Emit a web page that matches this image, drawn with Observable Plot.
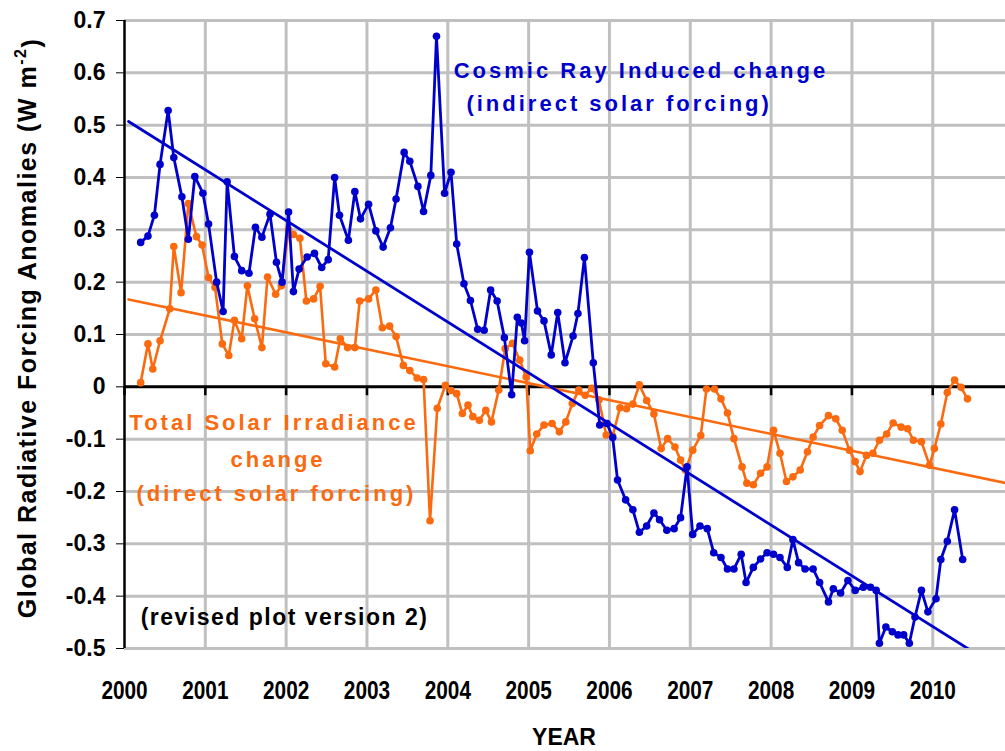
<!DOCTYPE html>
<html>
<head>
<meta charset="utf-8">
<script src="https://cdn.jsdelivr.net/npm/d3@7"></script>
<script src="https://cdn.jsdelivr.net/npm/@observablehq/plot@0.6"></script>
<style>
  html, body { margin: 0; padding: 0; background: #fff; overflow: hidden; }
  #chart { width: 1005px; height: 751px; }
</style>
</head>
<body>
<div id="chart"></div>
<script>
// ---- Data ----
const years = [2000, 2001, 2002, 2003, 2004, 2005, 2006, 2007, 2008, 2009, 2010];
const yTicks = [-0.5, -0.4, -0.3, -0.2, -0.1, 0, 0.1, 0.2, 0.3, 0.4, 0.5, 0.6, 0.7];
const yTickLabels = ["-0.5", "-0.4", "-0.3", "-0.2", "-0.1", "0", "0.1", "0.2", "0.3", "0.4", "0.5", "0.6", "0.7"];

// Cosmic Ray Induced change (indirect solar forcing)
const cosmicYear = [
  2000.20, 2000.29, 2000.37, 2000.44, 2000.54, 2000.61, 2000.71, 2000.79, 2000.87, 2000.97,
  2001.04, 2001.14, 2001.22, 2001.27, 2001.36, 2001.45, 2001.54, 2001.62, 2001.70, 2001.80,
  2001.88, 2001.95, 2002.03, 2002.09, 2002.16, 2002.26, 2002.35, 2002.44, 2002.52, 2002.60,
  2002.66, 2002.77, 2002.85, 2002.92, 2003.02, 2003.11, 2003.20, 2003.29, 2003.36, 2003.46,
  2003.53, 2003.63, 2003.70, 2003.79, 2003.86, 2003.96, 2004.04, 2004.11, 2004.20, 2004.28,
  2004.37, 2004.45, 2004.53, 2004.61, 2004.70, 2004.79, 2004.86, 2004.91, 2004.95, 2005.01,
  2005.11, 2005.19, 2005.28, 2005.36, 2005.45, 2005.55, 2005.61, 2005.69, 2005.80, 2005.88,
  2005.97, 2006.04, 2006.10, 2006.20, 2006.29, 2006.37, 2006.46, 2006.55, 2006.62, 2006.71,
  2006.80, 2006.88, 2006.96, 2007.03, 2007.12, 2007.21, 2007.29, 2007.38, 2007.46, 2007.54,
  2007.63, 2007.69, 2007.78, 2007.87, 2007.95, 2008.03, 2008.11, 2008.20, 2008.27, 2008.34,
  2008.42, 2008.52, 2008.60, 2008.71, 2008.77, 2008.86, 2008.95, 2009.04, 2009.14, 2009.23,
  2009.30, 2009.34, 2009.42, 2009.50, 2009.57, 2009.64, 2009.71, 2009.78, 2009.86, 2009.94,
  2010.04, 2010.10, 2010.18, 2010.27, 2010.37
];
const cosmicValue = [
  0.276, 0.288, 0.328, 0.425, 0.528, 0.438, 0.363, 0.282, 0.402, 0.370,
  0.311, 0.200, 0.144, 0.392, 0.249, 0.222, 0.217, 0.305, 0.286, 0.330,
  0.238, 0.200, 0.334, 0.182, 0.225, 0.248, 0.255, 0.228, 0.243, 0.400,
  0.328, 0.280, 0.373, 0.321, 0.349, 0.298, 0.267, 0.304, 0.359, 0.448,
  0.431, 0.383, 0.335, 0.404, 0.670, 0.370, 0.410, 0.273, 0.197, 0.165,
  0.110, 0.108, 0.185, 0.164, 0.094, -0.015, 0.133, 0.122, 0.088, 0.257,
  0.145, 0.126, 0.061, 0.142, 0.046, 0.097, 0.140, 0.247, 0.046, -0.073,
  -0.070, -0.097, -0.178, -0.216, -0.235, -0.278, -0.266, -0.241, -0.254, -0.274,
  -0.271, -0.250, -0.153, -0.282, -0.266, -0.271, -0.317, -0.326, -0.348, -0.348,
  -0.320, -0.374, -0.345, -0.329, -0.317, -0.320, -0.326, -0.345, -0.292, -0.336,
  -0.348, -0.348, -0.374, -0.411, -0.386, -0.394, -0.370, -0.389, -0.383, -0.383,
  -0.389, -0.490, -0.459, -0.468, -0.474, -0.474, -0.490, -0.440, -0.389, -0.430,
  -0.405, -0.330, -0.295, -0.235, -0.330
];

// Total Solar Irradiance change (direct solar forcing)
const tsiYear = [
  2000.20, 2000.29, 2000.35, 2000.44, 2000.56, 2000.61, 2000.70, 2000.79, 2000.89, 2000.96,
  2001.04, 2001.12, 2001.21, 2001.29, 2001.36, 2001.45, 2001.52, 2001.61, 2001.70, 2001.77,
  2001.87, 2001.94, 2002.03, 2002.09, 2002.17, 2002.25, 2002.34, 2002.42, 2002.49, 2002.60,
  2002.67, 2002.76, 2002.85, 2002.91, 2003.02, 2003.11, 2003.19, 2003.28, 2003.36, 2003.45,
  2003.53, 2003.62, 2003.70, 2003.78, 2003.87, 2003.97, 2004.04, 2004.11, 2004.18, 2004.25,
  2004.31, 2004.39, 2004.47, 2004.54, 2004.63, 2004.71, 2004.80, 2004.89, 2004.97, 2005.02,
  2005.10, 2005.19, 2005.29, 2005.38, 2005.46, 2005.54, 2005.62, 2005.70, 2005.78, 2005.87,
  2005.96, 2006.04, 2006.13, 2006.21, 2006.29, 2006.37, 2006.46, 2006.55, 2006.64, 2006.72,
  2006.81, 2006.88, 2006.94, 2007.03, 2007.13, 2007.20, 2007.30, 2007.38, 2007.46, 2007.54,
  2007.64, 2007.70, 2007.78, 2007.87, 2007.95, 2008.03, 2008.11, 2008.19, 2008.27, 2008.36,
  2008.45, 2008.52, 2008.60, 2008.71, 2008.80, 2008.88, 2008.97, 2009.04, 2009.10, 2009.18,
  2009.26, 2009.34, 2009.43, 2009.51, 2009.61, 2009.69, 2009.76, 2009.86, 2009.96, 2010.02,
  2010.10, 2010.18, 2010.27, 2010.35, 2010.43
];
const tsiValue = [
  0.008, 0.082, 0.034, 0.088, 0.149, 0.268, 0.180, 0.350, 0.287, 0.271,
  0.209, 0.190, 0.082, 0.060, 0.127, 0.092, 0.193, 0.130, 0.075, 0.210,
  0.177, 0.193, 0.300, 0.291, 0.284, 0.164, 0.168, 0.192, 0.044, 0.038,
  0.092, 0.075, 0.075, 0.164, 0.168, 0.185, 0.113, 0.116, 0.096, 0.041,
  0.031, 0.017, 0.014, -0.256, -0.041, 0.003, -0.007, -0.013, -0.051, -0.035,
  -0.057, -0.064, -0.045, -0.067, -0.006, 0.073, 0.083, 0.051, 0.019, -0.122,
  -0.090, -0.073, -0.070, -0.086, -0.067, -0.032, -0.006, -0.016, -0.003, -0.025,
  -0.092, -0.094, -0.040, -0.042, -0.033, 0.004, -0.026, -0.052, -0.118, -0.099,
  -0.115, -0.140, -0.159, -0.121, -0.093, -0.004, -0.004, -0.023, -0.050, -0.099,
  -0.153, -0.184, -0.187, -0.165, -0.153, -0.083, -0.127, -0.181, -0.172, -0.159,
  -0.124, -0.096, -0.074, -0.055, -0.061, -0.083, -0.121, -0.143, -0.162, -0.131,
  -0.127, -0.102, -0.090, -0.069, -0.077, -0.080, -0.102, -0.105, -0.150, -0.118,
  -0.071, -0.011, 0.013, -0.001, -0.023
];

// Linear trend lines (end points)
const trendYear = [2000.05, 2011];
const cosmicTrend = [0.507, -0.555];
const tsiTrend = [0.167, -0.187];

// Annotation texts
const cosmicNote = ["Cosmic Ray Induced change", "(indirect solar forcing)"];
const tsiNote = ["Total Solar Irradiance", "change", "(direct solar forcing)"];
const revisedNote = "(revised plot version 2)";

// ---- Build tables ----
const cosmic = cosmicYear.map((t, i) => ({t, v: cosmicValue[i]}));
const tsi = tsiYear.map((t, i) => ({t, v: tsiValue[i]}));
const cosmicFit = trendYear.map((t, i) => ({t, v: cosmicTrend[i]}));
const tsiFit = trendYear.map((t, i) => ({t, v: tsiTrend[i]}));

const BLUE = "#0000cc";
const ORANGE = "#fb6a0f";
const GRID = "#c0c0c0";
const FONT = "'Liberation Sans', Arial, sans-serif";

const chart = Plot.plot({
  width: 1005,
  height: 751,
  marginLeft: 124,
  marginRight: 0,
  marginTop: 20,
  marginBottom: 103,
  style: {background: "#fff", fontFamily: FONT, fontSize: "22px", fontWeight: "bold", color: "#000", overflow: "hidden"},
  x: {domain: [2000, 2010.9], ticks: years, tickFormat: d => String(d), tickSize: 0, tickPadding: 32, label: null},
  y: {domain: [-0.5, 0.7], ticks: yTicks, tickFormat: d => yTickLabels[yTicks.findIndex(t => Math.abs(t - d) < 1e-9)], tickSize: 8, tickPadding: 11, label: null},
  marks: [
    Plot.ruleY(yTicks.filter(d => d !== 0), {stroke: GRID, strokeWidth: 3}),
    Plot.ruleX(years.filter(d => d !== 2000), {stroke: GRID, strokeWidth: 3}),
    Plot.ruleY([0], {stroke: "#000", strokeWidth: 3}),
    Plot.ruleX(years, {y1: 0, y2: -0.017, stroke: "#000", strokeWidth: 2.5}),
    Plot.ruleX([2000], {stroke: "#000", strokeWidth: 2.5}),
    Plot.line(tsiFit, {x: "t", y: "v", stroke: ORANGE, strokeWidth: 2.6, clip: true}),
    Plot.line(tsi, {x: "t", y: "v", stroke: ORANGE, strokeWidth: 2.6, clip: true}),
    Plot.dot(tsi, {x: "t", y: "v", fill: ORANGE, r: 3.8, clip: true}),
    Plot.line(cosmic, {x: "t", y: "v", stroke: BLUE, strokeWidth: 2.8, clip: true}),
    Plot.dot(cosmic, {x: "t", y: "v", fill: BLUE, r: 3.8, clip: true}),
    Plot.line(cosmicFit, {x: "t", y: "v", stroke: BLUE, strokeWidth: 2.8, clip: true}),
    Plot.text([cosmicNote[0]], {x: 2006.39, y: 0.604, fill: BLUE, fontSize: 22, fontWeight: "bold", lineAnchor: "middle"}),
    Plot.text([cosmicNote[1]], {x: 2006.12, y: 0.541, fill: BLUE, fontSize: 22, fontWeight: "bold", lineAnchor: "middle"}),
    Plot.text([tsiNote[0]], {x: 2001.85, y: -0.069, fill: ORANGE, fontSize: 22, fontWeight: "bold", lineAnchor: "middle"}),
    Plot.text([tsiNote[1]], {x: 2001.90, y: -0.139, fill: ORANGE, fontSize: 22, fontWeight: "bold", lineAnchor: "middle"}),
    Plot.text([tsiNote[2]], {x: 2001.88, y: -0.204, fill: ORANGE, fontSize: 22, fontWeight: "bold", lineAnchor: "middle"}),
    Plot.text([revisedNote], {x: 2001.98, y: -0.441, fill: "#000", fontSize: 23, fontWeight: "bold", lineAnchor: "middle"})
  ]
});

document.getElementById("chart").appendChild(chart);

const svg = d3.select(chart);
const spaced = new Set([...cosmicNote, ...tsiNote]);
svg.selectAll("text").each(function() {
  const s = this.textContent;
  if (spaced.has(s)) d3.select(this).attr("letter-spacing", "3px").style("letter-spacing", "3px");
  if (s === revisedNote) d3.select(this).attr("letter-spacing", "1.5px").style("letter-spacing", "1.5px");
});

// axis label fonts
svg.selectAll('g[aria-label^="y-axis"] text').style("font-family", FONT).style("font-size", "23px").style("font-weight", "bold");
svg.selectAll('g[aria-label^="x-axis"] text').each(function() {
  d3.select(this).style("font-family", FONT).style("font-size", "26px").style("font-weight", "bold");
  const b = this.getBBox();
  const cx = b.x + b.width / 2;
  const t0 = this.getAttribute("transform") || "";
  this.setAttribute("transform", `${t0} translate(${cx},0) scale(0.8,1) translate(${-cx},0)`);
});

// y-axis title with superscript
const yt = svg.append("text")
  .attr("transform", "translate(29,328) rotate(-90)")
  .attr("text-anchor", "middle")
  .attr("dominant-baseline", "middle")
  .style("font-family", FONT).style("font-size", "25px").style("font-weight", "bold")
  .attr("letter-spacing", "1.5px")
  .attr("fill", "#000");
yt.append("tspan").text("Global Radiative Forcing Anomalies (W m");
yt.append("tspan").attr("dy", "-0.45em").style("font-size", "16px").text("-2");
yt.append("tspan").attr("dy", "0.45em").text(")");

// x-axis title
svg.append("text")
  .attr("x", 564).attr("y", 745)
  .attr("text-anchor", "middle")
  .style("font-family", FONT).style("font-size", "23px").style("font-weight", "bold")
  .attr("fill", "#000")
  .text("YEAR");
</script>
</body>
</html>
